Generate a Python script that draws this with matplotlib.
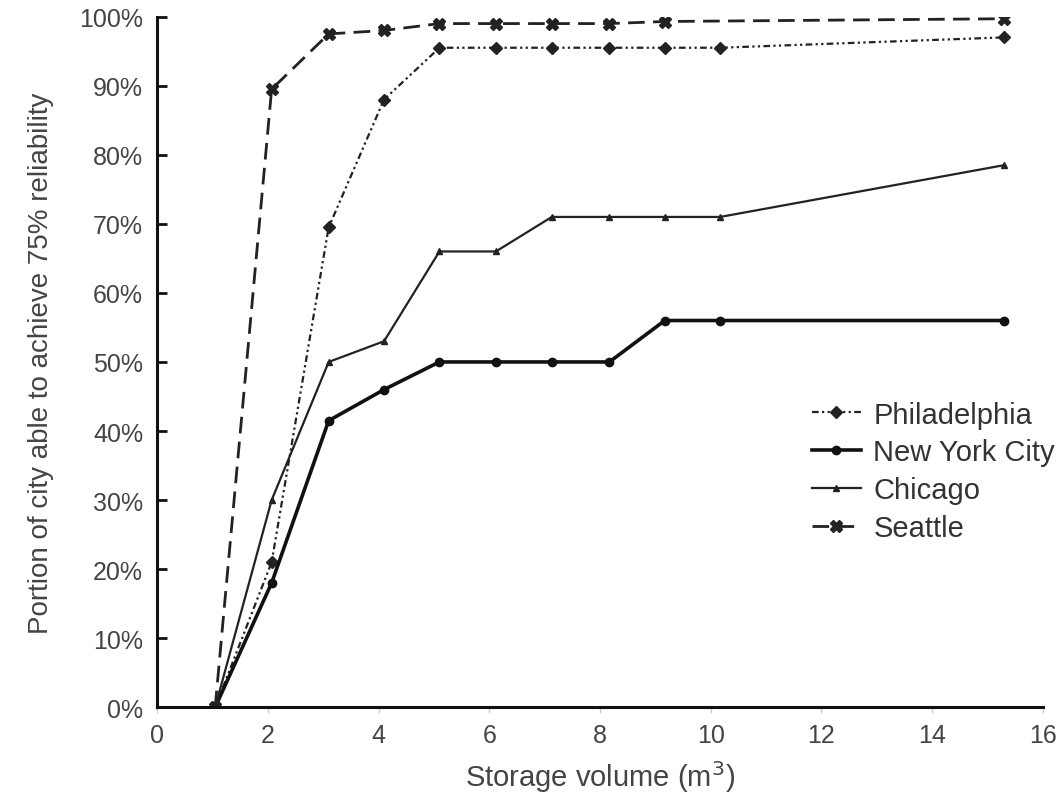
import matplotlib
matplotlib.use("Agg")
import matplotlib.pyplot as plt
from matplotlib.ticker import PercentFormatter

plt.rcParams['font.family'] = ['Liberation Sans', 'DejaVu Sans']

# storage volumes (m3) and share of city reaching 75% reliability (%)
vol_all = [1.05, 2.07, 3.1, 4.1, 5.1, 6.12, 7.13, 8.17, 9.17, 10.17, 15.3]
vol_seattle = [1.05, 2.07, 3.1, 4.1, 5.1, 6.12, 7.13, 8.17, 9.17, 15.3]

philadelphia = [0, 21, 69.5, 88, 95.5, 95.5, 95.5, 95.5, 95.5, 95.5, 97]
new_york = [0, 18, 41.5, 46, 50, 50, 50, 50, 56, 56, 56]
chicago = [0, 30, 50, 53, 66, 66, 71, 71, 71, 71, 78.5]
seattle = [0, 89.5, 97.5, 98, 99, 99, 99, 99, 99.3, 99.7]

x_ticks = [0, 2, 4, 6, 8, 10, 12, 14, 16]
y_ticks = [0, 10, 20, 30, 40, 50, 60, 70, 80, 90, 100]

fig = plt.figure(figsize=(10.61, 8.03), dpi=100)
ax = fig.add_axes([0.148, 0.118, 0.835, 0.86])

ax.plot(vol_all, philadelphia, color='#222222', lw=1.6,
        linestyle=(0, (3, 1.5, 1, 1.5, 1, 1.5)), marker='D', ms=6,
        label='Philadelphia')
ax.plot(vol_all, new_york, color='#111111', lw=2.6, linestyle='-',
        marker='o', ms=6, label='New York City')
ax.plot(vol_all, chicago, color='#222222', lw=1.6, linestyle='-',
        marker='^', ms=5, label='Chicago')
ax.plot(vol_seattle, seattle, color='#222222', lw=2.0,
        linestyle=(0, (6, 3)), marker='X', ms=9, label='Seattle')

ax.set_xlim(0, 16)
ax.set_ylim(0, 100)
ax.set_xticks(x_ticks)
ax.set_yticks(y_ticks)
ax.yaxis.set_major_formatter(PercentFormatter(decimals=0))

for side in ['top', 'right']:
    ax.spines[side].set_visible(False)
for side in ['left', 'bottom']:
    ax.spines[side].set_linewidth(2.2)
    ax.spines[side].set_color('#111111')

ax.tick_params(axis='y', direction='in', length=7, width=2, labelsize=18,
               colors='#111111', labelcolor='#444444', pad=10)
ax.tick_params(axis='x', direction='out', length=4, width=1, labelsize=18,
               colors='#cccccc', labelcolor='#444444', pad=7)

ax.set_xlabel('Storage volume (m$^3$)', fontsize=21, color='#444444',
              labelpad=8)
ax.set_ylabel('Portion of city able to achieve 75% reliability',
              fontsize=20, color='#444444', labelpad=18)

leg = fig.legend(loc='upper left', bbox_to_anchor=(0.765, 0.5),
                 frameon=False, fontsize=21, handlelength=1.7,
                 handletextpad=0.42, labelspacing=0.34, borderpad=0,
                 borderaxespad=0)
for t in leg.get_texts():
    t.set_color('#333333')

fig.savefig('out.png', dpi=100, facecolor='white')
